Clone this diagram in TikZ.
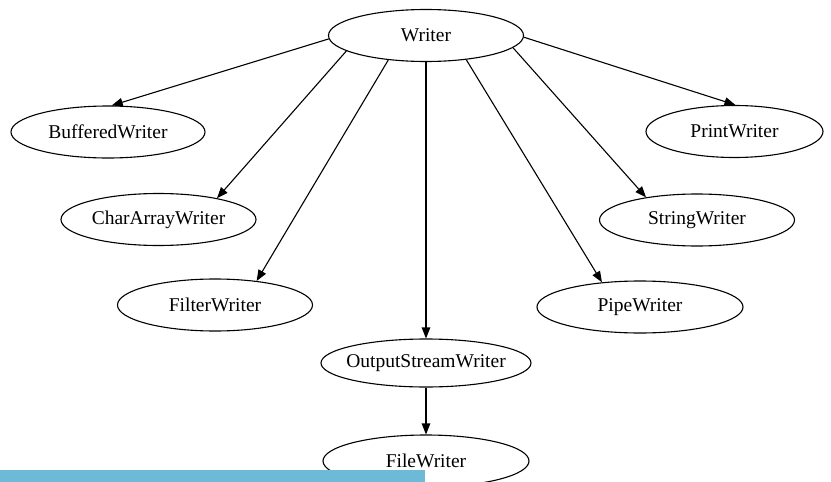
\documentclass[tikz,border=0pt]{standalone}
\usepackage{fontspec}
\setmainfont{Liberation Serif}
\usetikzlibrary{shapes.geometric,arrows.meta}
\definecolor{barblue}{RGB}{108,185,216}
\begin{document}
\begin{tikzpicture}[x=1pt,y=-1pt,
  cls/.style={ellipse, draw, line width=1.1pt, inner sep=0pt, minimum height=52pt,
    label={[font=\fontsize{19.5}{21}\selectfont, inner sep=0pt]center:#1}},
  inh/.style={-{Triangle[length=11pt,width=8.5pt]}, line width=1.1pt}]
\useasboundingbox (0,0) rectangle (831,482);

% class nodes
\node[cls=Writer, minimum width=195pt] (w) at (426,35.5) {};
\node[cls=BufferedWriter, minimum width=194pt] (bw) at (108,132) {};
\node[cls=CharArrayWriter, minimum width=195pt] (caw) at (158.5,219.5) {};
\node[cls=FilterWriter, minimum width=195pt] (fw) at (215,305) {};
\node[cls=OutputStreamWriter, minimum width=210pt, minimum height=48pt] (osw) at (426,363) {};
\node[cls=FileWriter, minimum width=206pt] (fiw) at (426,461) {};
\node[cls=PrintWriter, minimum width=177pt] (pw) at (734.5,131.5) {};
\node[cls=StringWriter, minimum width=195pt] (sw) at (697,220) {};
\node[cls=PipeWriter, minimum width=206pt] (piw) at (640,307) {};

% inheritance edges
\draw[inh] (w.182) -- (bw.82);
\draw[inh] (w.191) -- (caw.20);
\draw[inh] (w.213) -- (fw.30);
\draw[inh] (w.270) -- (osw.90);
\draw[inh] (w.329) -- (piw.147);
\draw[inh] (w.352) -- (sw.156);
\draw[inh] (w.359) -- (pw.88);
\draw[inh] (osw.270) -- (fiw.90);

% bar along the bottom edge
\fill[barblue] (0,470) rectangle (425,482);
\end{tikzpicture}
\end{document}
